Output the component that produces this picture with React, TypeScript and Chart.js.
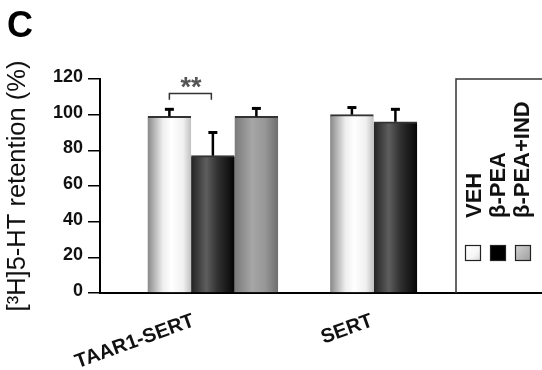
import React, { useEffect, useRef } from 'react';
import { Chart, registerables } from 'chart.js';

Chart.register(...registerables);

// ---- data ----
const categories = ['TAAR1-SERT', 'SERT'];
const seriesNames = ['VEH', 'β-PEA', 'β-PEA+IND'];
const vehValues: (number | null)[] = [99, 100];
const peaValues: (number | null)[] = [77, 96];
const indValues: (number | null)[] = [99, null];
const vehErrors: (number | null)[] = [4, 4];
const peaErrors: (number | null)[] = [13, 7];
const indErrors: (number | null)[] = [4.5, null];
const yTicks = [0, 20, 40, 60, 80, 100, 120];
const yTitle = '[³H]5-HT retention (%)';
const panelLabel = 'C';
const significanceText = '**';
const significanceLevels = [111.8, 108.4, 117.7]; // bracket, bracket ends, stars (data units)

const seriesValues = [vehValues, peaValues, indValues];
const seriesErrors = [vehErrors, peaErrors, indErrors];

const FONT = '"Liberation Sans", Arial, Helvetica, sans-serif';

const gradientStops: [number, string][][] = [
  [[0, '#888888'], [0.35, '#eeeeee'], [0.55, '#ffffff'], [0.82, '#f0f0f0'], [1, '#c0c0c0']],
  [[0, '#222222'], [0.35, '#5e5e5e'], [0.6, '#323232'], [1, '#050505']],
  [[0, '#7a7a7a'], [0.4, '#a6a6a6'], [0.7, '#979797'], [1, '#6e6e6e']],
];
const solidColors = ['#eeeeee', '#333333', '#999999'];

const barStylePlugin = {
  id: 'barStyle',
  beforeDatasetsDraw(chart: any) {
    const ctx = chart.ctx;
    chart.data.datasets.forEach((_ds: any, di: number) => {
      const meta = chart.getDatasetMeta(di);
      meta.data.forEach((el: any) => {
        const x = el.x, w = el.width, y = el.y;
        if (!isFinite(x) || !isFinite(w) || !isFinite(y)) return;
        const g = ctx.createLinearGradient(x - w / 2, 0, x + w / 2, 0);
        gradientStops[di].forEach(([o, c]) => g.addColorStop(o, c));
        el.options = { ...el.options, backgroundColor: g };
      });
    });
  },
};

const errorBarPlugin = {
  id: 'errorBars',
  afterDatasetsDraw(chart: any) {
    const { ctx, scales } = chart;
    const yS = scales.y;
    chart.data.datasets.forEach((ds: any, di: number) => {
      const meta = chart.getDatasetMeta(di);
      meta.data.forEach((el: any, i: number) => {
        const v = ds.data[i].y;
        const e = seriesErrors[di][i];
        if (v == null || e == null) return;
        const top = yS.getPixelForValue(v + e);
        ctx.save();
        ctx.strokeStyle = '#000';
        ctx.lineWidth = 2.5;
        ctx.beginPath();
        ctx.moveTo(el.x, el.y);
        ctx.lineTo(el.x, top);
        ctx.stroke();
        ctx.lineWidth = 3;
        ctx.beginPath();
        ctx.moveTo(el.x - 4.5, top);
        ctx.lineTo(el.x + 4.5, top);
        ctx.stroke();
        ctx.restore();
      });
    });
    const a = chart.getDatasetMeta(0).data[0];
    const b = chart.getDatasetMeta(1).data[0];
    if (a && b) {
      const yb = yS.getPixelForValue(significanceLevels[0]);
      const ye = yS.getPixelForValue(significanceLevels[1]);
      const ys = yS.getPixelForValue(significanceLevels[2]);
      ctx.save();
      ctx.strokeStyle = '#333';
      ctx.lineWidth = 1.5;
      ctx.beginPath();
      ctx.moveTo(a.x, ye);
      ctx.lineTo(a.x, yb);
      ctx.lineTo(b.x - 1.5, yb);
      ctx.lineTo(b.x - 1.5, ye);
      ctx.stroke();
      ctx.fillStyle = '#555';
      ctx.font = `bold 27px ${FONT}`;
      ctx.textAlign = 'center';
      ctx.textBaseline = 'middle';
      ctx.fillText(significanceText, (a.x + b.x) / 2, ys + 5);
      ctx.restore();
    }
  },
};

const legendPlugin = {
  id: 'customLegend',
  afterDraw(chart: any) {
    const { ctx, chartArea } = chart;
    const bx = 456;
    ctx.save();
    ctx.strokeStyle = '#333';
    ctx.lineWidth = 1.5;
    ctx.beginPath();
    ctx.moveTo(bx, chartArea.bottom);
    ctx.lineTo(bx, chartArea.top);
    ctx.lineTo(chart.width, chartArea.top);
    ctx.stroke();

    const baselines = [481, 505, 529];
    const squares = [465, 490, 515];
    ctx.fillStyle = '#111';
    ctx.font = `bold 22px ${FONT}`;
    ctx.textAlign = 'left';
    ctx.textBaseline = 'alphabetic';
    seriesNames.forEach((name, i) => {
      ctx.save();
      ctx.translate(baselines[i], 218);
      ctx.rotate(-Math.PI / 2);
      ctx.fillText(name, 0, 0);
      ctx.restore();
    });
    const sqStops: [number, string][][] = [
      [[0, '#ffffff'], [0.6, '#f6f6f6'], [1, '#d8d8d8']],
      [[0, '#000000'], [1, '#000000']],
      [[0, '#d4d4d4'], [1, '#9c9c9c']],
    ];
    squares.forEach((sx, i) => {
      const sy = 245, s = 16;
      const g = ctx.createLinearGradient(sx, sy, sx + s, sy + s);
      sqStops[i].forEach(([o, c]) => g.addColorStop(o, c));
      ctx.fillStyle = g;
      ctx.fillRect(sx, sy, s, s);
      ctx.strokeStyle = '#222';
      ctx.lineWidth = 1.2;
      ctx.strokeRect(sx + 0.5, sy + 0.5, s - 1, s - 1);
    });

    ctx.fillStyle = '#000';
    ctx.font = `bold 36px ${FONT}`;
    ctx.textAlign = 'left';
    ctx.textBaseline = 'alphabetic';
    ctx.fillText(panelLabel, 7, 37);
    ctx.restore();
  },
};

const xLabelAnchors = [0.88, 1.99];

export default function App() {
  const ref = useRef<HTMLCanvasElement | null>(null);
  useEffect(() => {
    if (!ref.current) return;
    const chart = new Chart(ref.current, {
      type: 'bar',
      data: {
        datasets: seriesNames.map((name, di) => ({
          label: name,
          data: categories.map((_c, i) => ({ x: i + 1, y: seriesValues[di][i] })),
          backgroundColor: solidColors[di],
          borderColor: '#333',
          borderWidth: { top: 2, left: 0, right: 0, bottom: 0 },
          barThickness: 43.5,
          grouped: true,
          skipNull: true,
        })) as any,
      },
      options: {
        animation: false,
        responsive: false,
        devicePixelRatio: 1,
        layout: { padding: { top: 79, left: 0, right: 0, bottom: 0 } },
        plugins: { legend: { display: false }, tooltip: { enabled: false } },
        scales: {
          x: {
            type: 'linear',
            offset: false,
            min: 0.298,
            max: 3.047,
            bounds: 'data',
            grid: { display: false, offset: false },
            border: { display: true, color: '#000', width: 2 },
            afterBuildTicks: (s: any) => {
              s.ticks = xLabelAnchors.map((v) => ({ value: v }));
            },
            afterFit: (s: any) => {
              s.height = 77;
            },
            ticks: {
              autoSkip: false,
              minRotation: 20,
              maxRotation: 20,
              padding: 8,
              color: '#111',
              font: { family: FONT, size: 20, weight: 'bold' },
              callback: (_v: any, i: number) => categories[i],
            },
          },
          y: {
            min: 0,
            max: 120,
            afterBuildTicks: (s: any) => {
              s.ticks = yTicks.map((v) => ({ value: v }));
            },
            afterFit: (s: any) => {
              s.width = 100;
            },
            grid: { drawOnChartArea: false, drawTicks: true, tickLength: 12, color: '#000', lineWidth: 1.5 },
            border: { display: true, color: '#000', width: 2 },
            ticks: {
              padding: 5,
              labelOffset: -2,
              color: '#111',
              font: { family: FONT, size: 18, weight: 'bold' },
            },
            title: {
              display: true,
              text: yTitle,
              color: '#111',
              font: { family: FONT, size: 25.5 },
              padding: { top: 3, bottom: 0 },
            },
          },
        },
      } as any,
      plugins: [barStylePlugin, errorBarPlugin, legendPlugin],
    });
    return () => chart.destroy();
  }, []);
  return (
    <div style={{ position: 'absolute', left: 0, top: 0, width: 542, height: 370, background: '#fff' }}>
      <canvas ref={ref} width={542} height={370} style={{ display: 'block' }} />
    </div>
  );
}
